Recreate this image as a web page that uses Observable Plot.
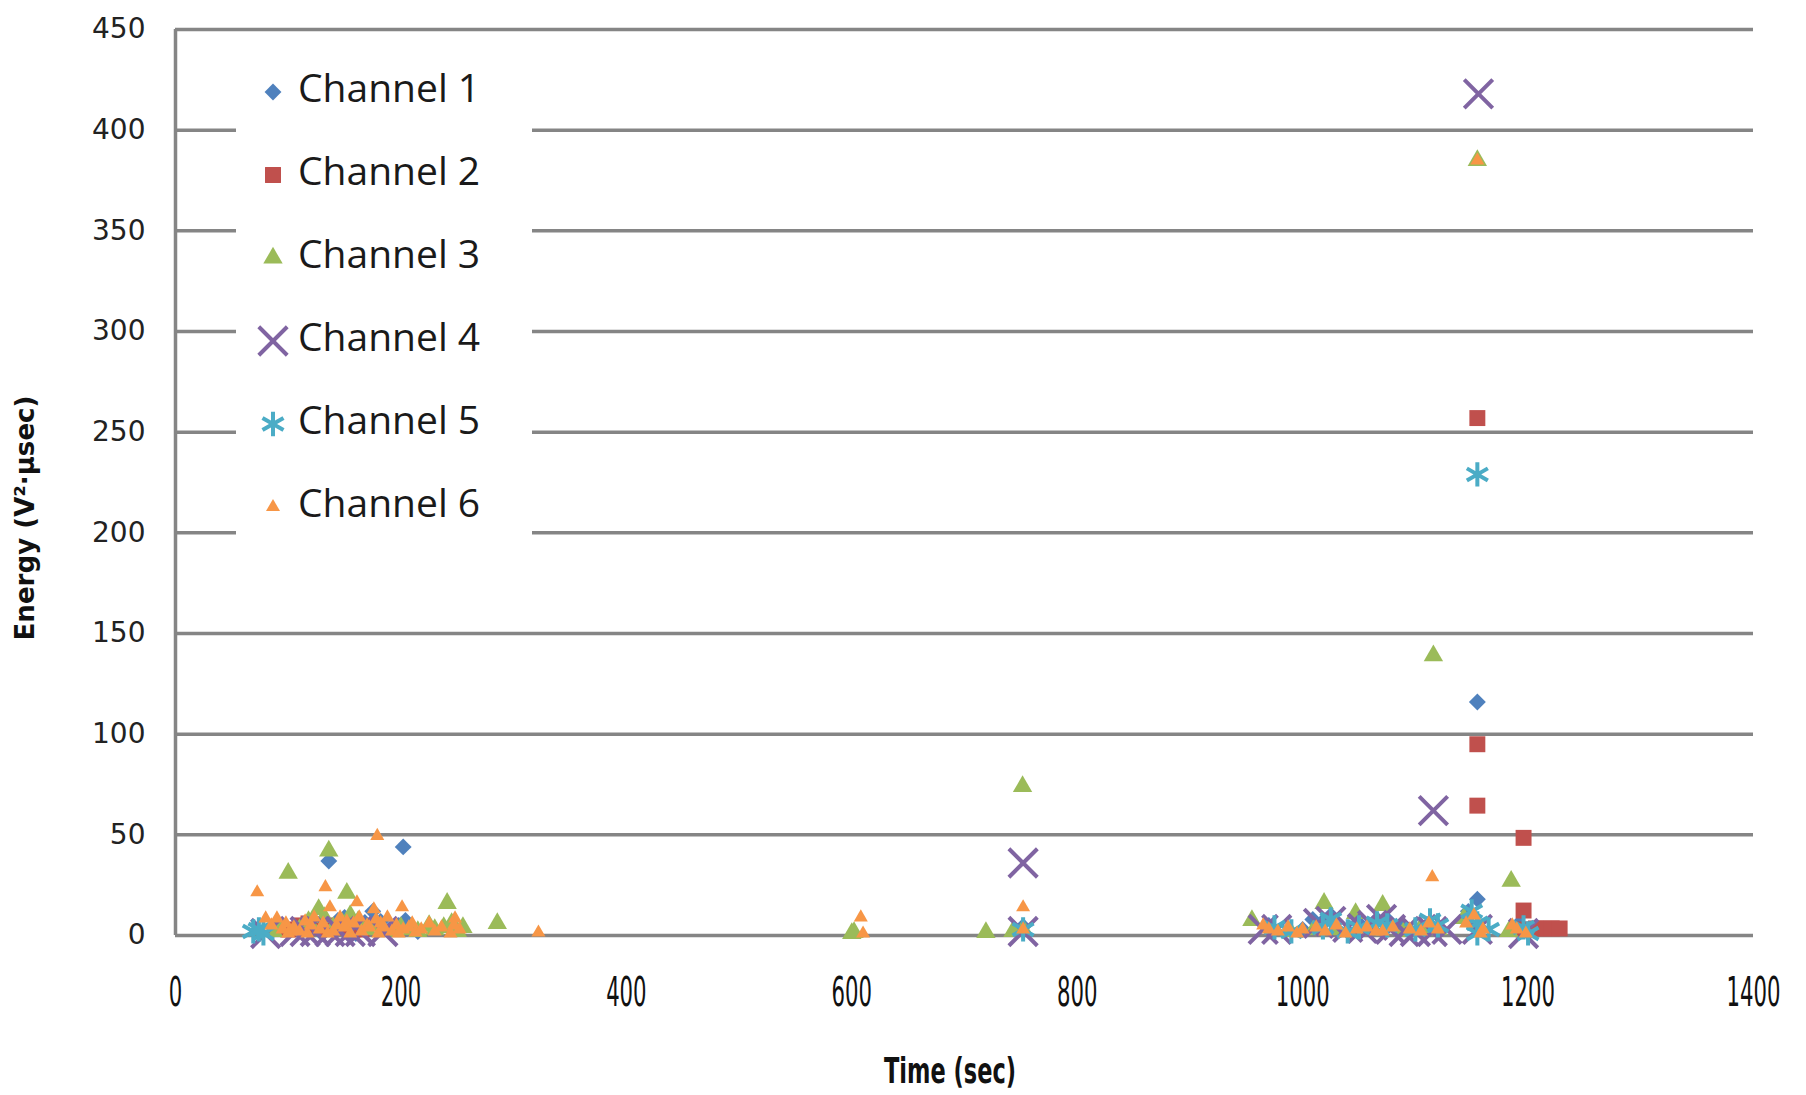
<!DOCTYPE html>
<html>
<head>
<meta charset="utf-8">
<script src="https://cdn.jsdelivr.net/npm/d3@7"></script>
<script src="https://cdn.jsdelivr.net/npm/@observablehq/plot@0.6"></script>
<style>
  html, body { margin: 0; padding: 0; background: #fff; }
  #chart { width: 1806px; height: 1095px; }
</style>
</head>
<body>
<div id="chart"></div>
<script>
// ---------- data (time in sec, energy in V²·µsec) ----------
const channels = ["Channel 1", "Channel 2", "Channel 3", "Channel 4", "Channel 5", "Channel 6"];
const colors = ["#4F81BD", "#C0504D", "#9BBB59", "#8064A2", "#4BACC6", "#F79646"];
const xTicks = [0, 200, 400, 600, 800, 1000, 1200, 1400];
const yTicks = [0, 50, 100, 150, 200, 250, 300, 350, 400, 450];

const ch1 = [[136,37],[202,44],[175,12],[144,7.5],[168,6.5],[204,7.5],[112,2],[160,1],[190,3],[130,1],[155,2],
  [125,6],[150,9],[182,7],[198,5],[210,4],[215,2],[140,3],
  [752,4.5],
  [1155,116],[1155,18],[1009,8],[1018,7],[1066,8],[1110,3],[1000,3],[1040,2],[1155,5],[1196,3],
  [970,5],[1025,10],[1050,6],[1075,8],[1088,4],[1147,12],[1192,6]];
const ch2 = [[100,3],[110,5],[118,6],[125,4],[132,5],[145,4],[165,3],
  [1155,257],[1155,95],[1155,64.5],[1196,48.5],[1196,12.4],[1207,3.5],[1214,3.5],[1221,3.5],[1228,3.5],[1196,3]];
const ch3 = [[100,31],[136,42],[152,21],[127,13],[155,10],[87,2],[241,16],[225,5],[238,4],[250,2],[285.5,6],
  [110,3],[140,4],[170,3],[195,2],[215,2],[230,3],
  [92,4],[118,7],[132,9],[148,6],[162,7],[178,5],[200,4],[210,3],[245,6],[255,4],
  [600,1],[602,1.5],[719,1.5],[743,2],[751.5,74],[752,3],
  [955,7.5],[989,2],[1019,16],[1047,11],[1071,15],[1116,139],[1185,27],[1143,8.5],[1105,4],[1155,385],
  [1183,2],[1030,3],[1060,3],[1090,2],[1120,3],[1010,3]];
const ch4 = [[80,1],[106,2],[115,2],[124,2],[137,2],[146,2],[155,2],[164,2],[184,2],
  [752,36],[752,2],
  [1156,418],[1116,62],[965,3],[977,3],[1014,6],[1025,7],[1040,4],[1053,3.5],[1062,5],[1070,8],[1078,3],
  [1090,2],[1100,2],[1115,2],[1128,3],[1155,3],[1196,1]];
const ch5 = [[69,2],[78,1],[74,3],
  [752,3],
  [1155,229],[975,4],[990,2],[1018,4],[1025,8],[1040,2],[1050,4],[1066,6],[1075,5],[1100,3],[1113,7.5],
  [1120,5],[1150,12],[1155,6],[1155,1],[1165,3],[1196,4],[1200,1]];
const ch6 = [[179,49.5],[72.5,21.5],[133,24],[161,16.5],[137,14],[201,14],[176,13],[80,8.5],[90,8.5],[146,9],
  [102,2],[202,3],[213,1.5],[248,8.5],[244,1],[322,1.5],[120,5],[128,3],[150,4],[158,6],[170,5],[185,4],
  [192,2],[140,2],[95,3],[110,2],[165,2],[178,8],[230,2],
  [85,5],[98,6],[105,4],[115,7],[123,9],[131,6],[143,5],[152,7],[163,9],[172,4],[182,6],[188,9],[196,5],
  [207,4],[218,3],[225,6],[236,4],[252,3],[247,5],[100,1],[117,1],[135,1],[155,1],[180,1],[198,1],[210,6],
  [608,9],[610,1],[752,14],[752,3],
  [1115,29],[1155,385],[965,5],[970,3],[978,2],[987,4],[995,1],[1000,3],[1012,4],[1020,2],[1030,5],[1038,1],
  [1048,3],[1057,4],[1065,2],[1071,2],[1080,4],[1095,3],[1105,2],[1112,6],[1120,3],[1145,6],[1152,10],
  [1158,1],[1160,3],[1186,5],[1190,3],[1198,1]];
const series = [ch1, ch2, ch3, ch4, ch5, ch6];

// ---------- marker styles ----------
const markers = [
  {symbol: "diamond2", r: 7.6, filled: true},
  {symbol: "square", r: 9, filled: true},
  {symbol: "triangle", r: 7.2, filled: true},
  {symbol: "times", r: 13, filled: false},
  {symbol: "asterisk", r: 11.5, filled: false},
  {symbol: "triangle", r: 5.2, filled: true}
];
const d3Symbols = {diamond2: d3.symbolDiamond2, square: d3.symbolSquare, triangle: d3.symbolTriangle,
  times: d3.symbolTimes, asterisk: d3.symbolAsterisk};

const gridColor = "#858585";

const dotMarks = series.map((data, i) => {
  const m = markers[i];
  return Plot.dot(data, {
    x: d => d[0], y: d => d[1], symbol: m.symbol, r: m.r,
    fill: m.filled ? colors[i] : "none",
    stroke: m.filled ? "none" : colors[i],
    strokeWidth: m.filled ? 0 : 4
  });
});

const chart = Plot.plot({
  width: 1806, height: 1095,
  marginLeft: 175, marginRight: 53, marginTop: 29, marginBottom: 160,
  style: {background: "#fff", fontFamily: "DejaVu Sans", overflow: "visible"},
  x: {domain: [0, 1400]},
  y: {domain: [0, 450]},
  marks: [
    Plot.gridY(yTicks, {stroke: gridColor, strokeOpacity: 1, strokeWidth: 3.5}),
    Plot.ruleX([0], {stroke: gridColor, strokeWidth: 3.5}),
    Plot.axisY(yTicks, {tickSize: 0, tickPadding: 30, fontSize: 28, fontFamily: "DejaVu Sans", fill: "#222",
      tickFormat: d => String(d), label: null}),
    Plot.axisX(xTicks, {tickSize: 0, tickPadding: 42, fontSize: 40, fontFamily: "DejaVu Sans", fill: "#111",
      tickFormat: d => String(d), label: null}),
    ...dotMarks
  ]
});

document.getElementById("chart").appendChild(chart);

// ---------- post styling ----------
const svg = d3.select(chart.tagName === "svg" ? chart : chart.querySelector("svg"));

// condensed x tick labels (horizontal squeeze so bounding boxes stay true)
svg.selectAll('g[aria-label="x-axis tick label"] text').each(function() {
  const n = this.textContent.length;
  const natural = this.getComputedTextLength() || 1;
  const sx = (13.5 * n) / natural;
  const t = this.getAttribute("transform") || "";
  this.setAttribute("transform", `${t} scale(${sx},1)`);
});

// axis titles
svg.append("text")
  .attr("x", 950).attr("y", 1073)
  .attr("text-anchor", "middle").attr("dominant-baseline", "middle")
  .attr("font-family", "DejaVu Sans").attr("font-weight", "bold").attr("font-size", 36)
  .attr("textLength", 132).attr("lengthAdjust", "spacingAndGlyphs")
  .attr("fill", "#111")
  .text("Time (sec)");

svg.append("text")
  .attr("transform", "translate(26,518) rotate(-90)")
  .attr("text-anchor", "middle").attr("dominant-baseline", "middle")
  .attr("font-family", "DejaVu Sans").attr("font-weight", "bold").attr("font-size", 27)
  .attr("textLength", 245).attr("lengthAdjust", "spacingAndGlyphs")
  .attr("fill", "#111")
  .text("Energy (V²·µsec)");

// legend
const lg = svg.append("g").attr("aria-label", "legend");
lg.append("rect").attr("x", 236).attr("y", 63).attr("width", 296).attr("height", 484).attr("fill", "#fff");
channels.forEach((name, i) => {
  const cy = 92 + i * 83;
  const m = markers[i];
  const size = Math.PI * m.r * m.r;
  lg.append("path")
    .attr("transform", `translate(273,${cy})`)
    .attr("d", d3.symbol(d3Symbols[m.symbol], size)())
    .attr("fill", m.filled ? colors[i] : "none")
    .attr("stroke", m.filled ? "none" : colors[i])
    .attr("stroke-width", m.filled ? 0 : 4);
  lg.append("text")
    .attr("x", 298).attr("y", cy)
    .attr("text-anchor", "start")
    .attr("dominant-baseline", "middle")
    .attr("font-family", "Open Sans").attr("font-size", 39)
    .attr("fill", "#1a1a1a")
    .text(name);
});
</script>
</body>
</html>
